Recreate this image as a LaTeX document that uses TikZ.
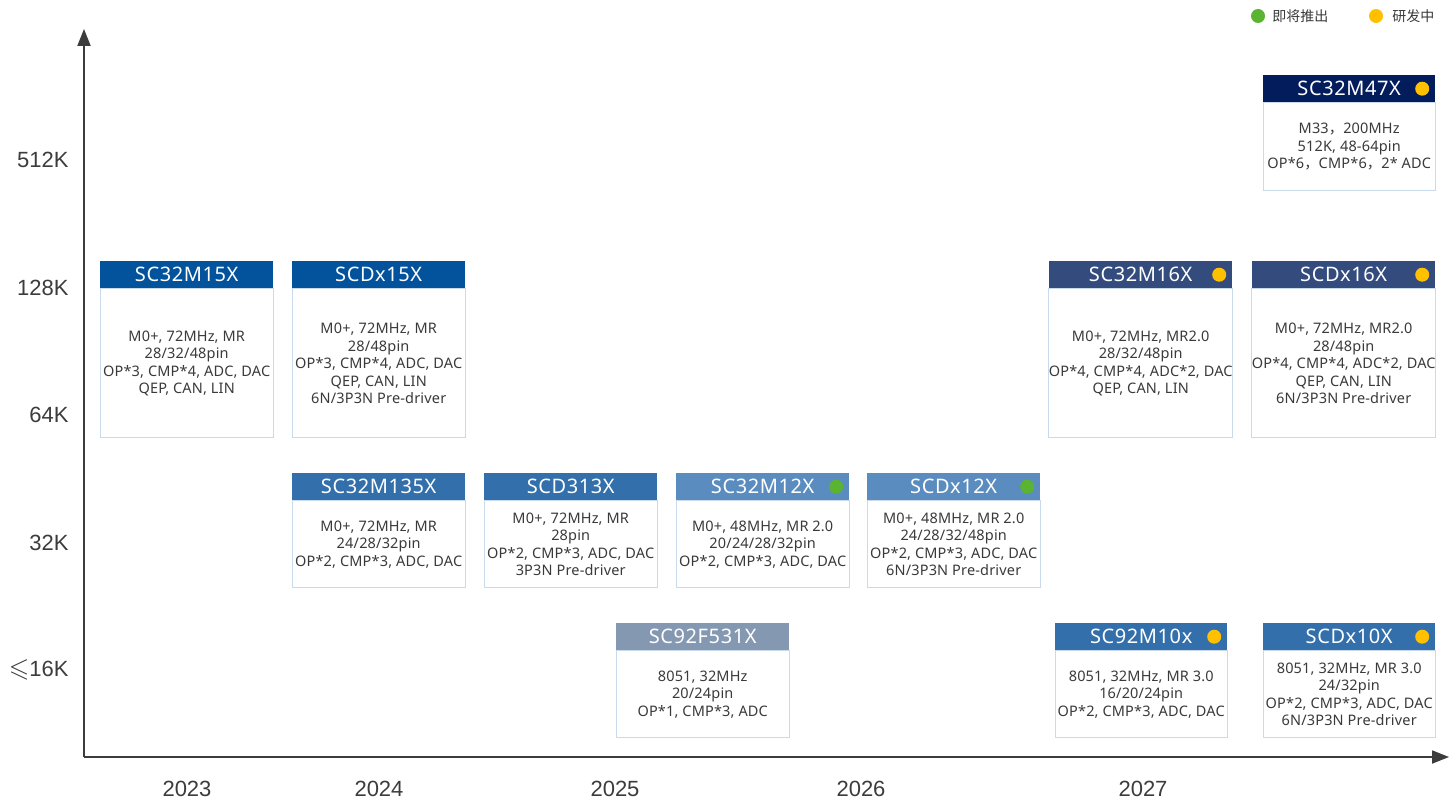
\documentclass[tikz,border=0pt]{standalone}
\usepackage{fontspec}
\usepackage{amssymb}
\usetikzlibrary{positioning,arrows.meta}
\setmainfont{Noto Sans}
\newfontfamily\axisfont{Liberation Sans}
\newfontfamily\headfont[LetterSpace=3]{Noto Sans}
\newfontfamily\bodyfont[LetterSpace=1.2]{Noto Sans}
\newfontfamily\cjk{Noto Sans CJK SC}
\definecolor{cA}{HTML}{02529C}
\definecolor{cB}{HTML}{326FAB}
\definecolor{cC}{HTML}{5A8CBF}
\definecolor{cD}{HTML}{8498B1}
\definecolor{cE}{HTML}{344C7D}
\definecolor{cF}{HTML}{031C5C}
\definecolor{rim}{HTML}{C9DAEC}
\definecolor{ink}{HTML}{3A3A3A}
\definecolor{axisgray}{HTML}{3C3C3C}
\definecolor{dotgreen}{HTML}{5BB431}
\definecolor{dotyellow}{HTML}{FFC000}

\begin{document}
\begin{tikzpicture}[x=1pt,y=-1pt,
    head/.style={anchor=north west,inner sep=0pt,text=white,font=\headfont\fontsize{20}{24}\selectfont},
    body/.style={draw=rim,line width=1pt,fill=white,inner sep=0pt,align=center,text=ink,font=\bodyfont\fontsize{14.5}{17.5}\selectfont},
    ylab/.style={anchor=east,text=axisgray,font=\axisfont\fontsize{22}{26}\selectfont},
    xlab/.style={text=axisgray,font=\axisfont\fontsize{22}{26}\selectfont},
    dot/.style={circle,inner sep=0pt,minimum size=14pt},
    legend/.style={inner sep=0pt,text=ink,font=\cjk\fontsize{14}{16}\selectfont},
    axis/.style={draw=axisgray,line width=1.8pt,-{Triangle[length=17pt,width=13pt]}}]
        \fill[white] (0,0) rectangle (1454,802);
        \useasboundingbox (0,0) rectangle (1454,802);

        % axes
        \coordinate (O) at (84,757);
        \coordinate (ytop) at (84,29);
        \coordinate (xend) at (1449,757);
        \draw[axis] (O) -- (ytop);
        \draw[axis] (O) -- (xend);

        \foreach \lab/\y in {512K/160,128K/288,64K/415,32K/543}{
            \node[ylab] (y\lab) at (72,\y) {\lab};
        }
        \node[ylab] (y16K) at (72,670) {\scalebox{1.2}{$\leqslant$}16K};
        \foreach \yr/\x in {2023/187,2024/379,2025/615,2026/861,2027/1143}{
            \node[xlab] (x\yr) at (\x,789) {\yr};
        }

        % chips
        \foreach \n/\x/\y/\w/\hb/\c/\t/\b in {
            A/100/261/173/149/cA/SC32M15X/{M0+, 72MHz, MR\\28/32/48pin\\OP*3, CMP*4, ADC, DAC\\QEP, CAN, LIN},
            B/292/261/173/149/cA/SCDx15X/{M0+, 72MHz, MR\\28/48pin\\OP*3, CMP*4, ADC, DAC\\QEP, CAN, LIN\\6N/3P3N Pre-driver},
            C/292/473/173/87/cB/SC32M135X/{M0+, 72MHz, MR\\24/28/32pin\\OP*2, CMP*3, ADC, DAC},
            D/484/473/173/87/cB/SCD313X/{M0+, 72MHz, MR\\28pin\\OP*2, CMP*3, ADC, DAC\\3P3N Pre-driver},
            E/676/473/173/87/cC/SC32M12X/{M0+, 48MHz, MR 2.0\\20/24/28/32pin\\OP*2, CMP*3, ADC, DAC},
            F/867/473/173/87/cC/SCDx12X/{M0+, 48MHz, MR 2.0\\24/28/32/48pin\\OP*2, CMP*3, ADC, DAC\\6N/3P3N Pre-driver},
            G/616/623/173/87/cD/SC92F531X/{8051, 32MHz\\20/24pin\\OP*1, CMP*3, ADC},
            H/1049/261/183/149/cE/SC32M16X/{M0+, 72MHz, MR2.0\\28/32/48pin\\OP*4, CMP*4, ADC*2, DAC\\QEP, CAN, LIN},
            I/1252/261/183/149/cE/SCDx16X/{M0+, 72MHz, MR2.0\\28/48pin\\OP*4, CMP*4, ADC*2, DAC\\QEP, CAN, LIN\\6N/3P3N Pre-driver},
            J/1263/75/172/88/cF/SC32M47X/{M33{\cjk ，}200MHz\\512K, 48-64pin\\OP*6{\cjk ，}CMP*6{\cjk ，}2* ADC},
            K/1055/623/172/87/cB/SC92M10x/{8051, 32MHz, MR 3.0\\16/20/24pin\\OP*2, CMP*3, ADC, DAC},
            L/1263/623/172/87/cB/SCDx10X/{8051, 32MHz, MR 3.0\\24/32pin\\OP*2, CMP*3, ADC, DAC\\6N/3P3N Pre-driver}}{
            \node[head,fill=\c,minimum width=\w pt,minimum height=27pt] (h\n) at (\x,\y) {\t};
            \node[body,minimum width=\w pt,minimum height=\hb pt,below=0pt of h\n] (b\n) {\b};
        }

        \foreach \n/\c in {E/dotgreen,F/dotgreen,H/dotyellow,I/dotyellow,J/dotyellow,K/dotyellow,L/dotyellow}{
            \node[dot,fill=\c,left=6pt of h\n.east] (d\n) {};
        }

        % legend
        \node[dot,fill=dotgreen] (lgA) at (1258,16) {};
        \node[legend,right=7pt of lgA] (ltA) {即将推出};
        \node[dot,fill=dotyellow] (lgB) at (1376,16) {};
        \node[legend,right=9pt of lgB] (ltB) {研发中};
    \end{tikzpicture}
\end{document}
